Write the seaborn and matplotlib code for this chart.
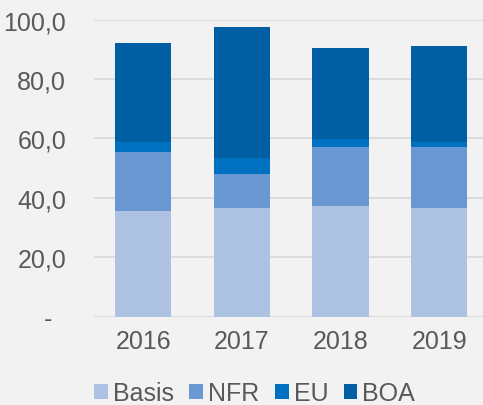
import numpy as np
import pandas as pd
import matplotlib
matplotlib.use("Agg")
import matplotlib.pyplot as plt
import seaborn as sns
from matplotlib.patches import Patch

years = ["2016", "2017", "2018", "2019"]
series = ["Basis", "NFR", "EU", "BOA"]
basis = [35.5, 36.5, 37.2, 36.5]
nfr = [19.9, 11.6, 20.0, 20.7]
eu = [3.4, 5.3, 2.5, 1.5]
boa = [33.3, 44.0, 30.6, 32.3]
colors = ["#adc2e3", "#6a98d3", "#0070c0", "#005ea2"]
yticks = [0, 20, 40, 60, 80, 100]
ytick_labels = ["-  ", "20,0", "40,0", "60,0", "80,0", "100,0"]

sns.set_theme(style="white")
plt.rcParams['font.family'] = ['Liberation Sans', 'DejaVu Sans']
text_color = "#595959"
bg = "#f2f2f2"

values = np.array([basis, nfr, eu, boa])
cum = np.cumsum(values, axis=0)

fig = plt.figure(figsize=(4.83, 4.06), dpi=100, facecolor=bg)
ax = fig.add_axes([94 / 483, 1 - 317.5 / 406, (483 - 94) / 483, (317.5 - 20.5) / 406])
ax.set_facecolor(bg)

for i in range(len(series) - 1, -1, -1):
    df = pd.DataFrame({"year": years, "value": cum[i]})
    sns.barplot(data=df, x="year", y="value", color=colors[i], ax=ax,
                width=0.57, saturation=1, zorder=3, linewidth=0, edgecolor="none")

ax.set_xlim(-0.5, 3.445)
ax.set_ylim(0, 100)
ax.set_yticks(yticks)
ax.set_yticklabels(ytick_labels)
ax.grid(axis="y", color="#d9d9d9", linewidth=1.3, zorder=0)
ax.grid(axis="x", visible=False)
for s in ax.spines.values():
    s.set_visible(False)
ax.set_xlabel("")
ax.set_ylabel("")
ax.tick_params(axis="y", length=0, pad=20, labelsize=18, labelcolor=text_color)
ax.tick_params(axis="x", length=0, pad=9, labelsize=18, labelcolor=text_color)

handles = [Patch(facecolor=c, edgecolor="none") for c in colors]
leg = fig.legend(handles, series, loc="center left", bbox_to_anchor=(94 / 483, 1 - 394 / 406),
                 ncol=4, frameon=False, fontsize=18, handlelength=0.55, handleheight=0.55,
                 handletextpad=0.2, columnspacing=0.62, borderaxespad=0, borderpad=0)
for t in leg.get_texts():
    t.set_color(text_color)

fig.savefig("out.png", dpi=100, facecolor=bg)
